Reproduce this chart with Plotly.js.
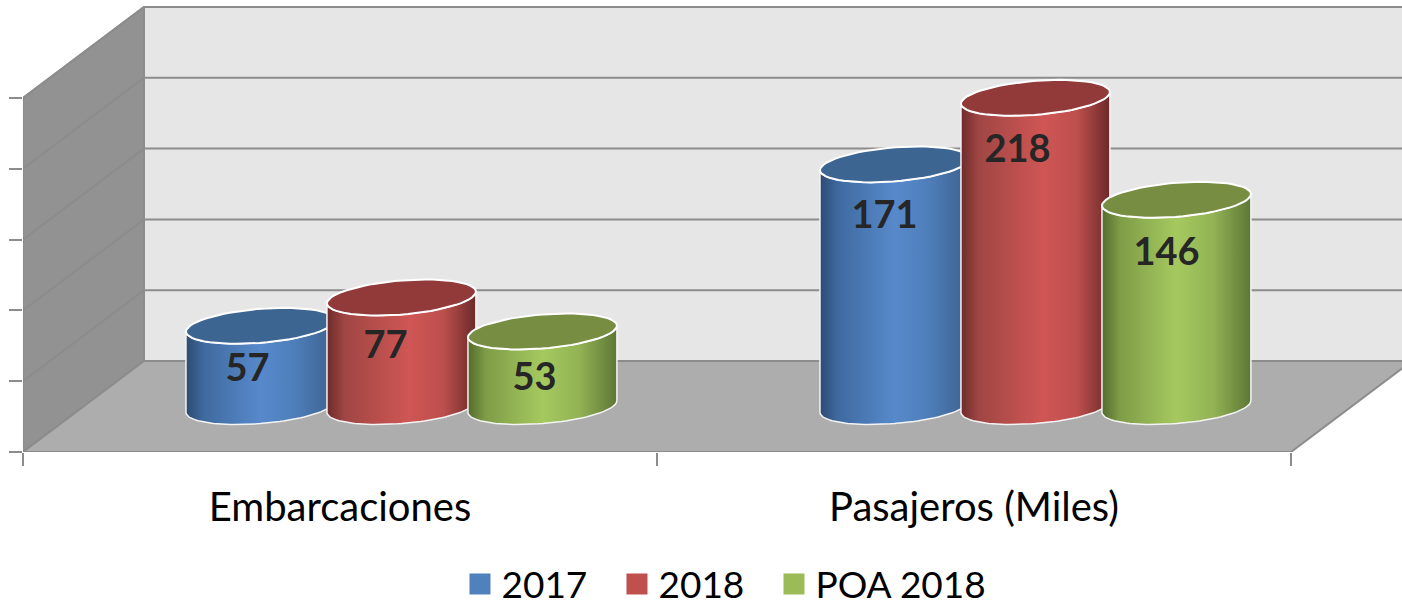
<!DOCTYPE html>
<html><head><meta charset="utf-8">
<script src="https://cdn.plot.ly/plotly-3.0.1.min.js"></script>
<style>html,body{margin:0;padding:0;background:#fff;overflow:hidden}</style>
</head><body><div id="chart" style="width:1402px;height:606px"></div>
<script>
const categories = ["Embarcaciones", "Pasajeros (Miles)"];
const seriesNames = ["2017", "2018", "POA 2018"];
const values2017 = [57, 171];
const values2018 = [77, 218];
const valuesPoa2018 = [53, 146];
const gridValues = [0, 50, 100, 150, 200, 250];

const allValues = [values2017, values2018, valuesPoa2018];
const swatch = ["#4f81bd", "#c0504d", "#9bbb59"];
const capColor = ["#3d6592", "#913a39", "#778d42"];
const bodyScale = [
  [[0,"#2c4b72"],[0.12,"#3f6a9f"],[0.5,"#5789cb"],[0.72,"#4f7fbb"],[1,"#3c618e"]],
  [[0,"#6e2b2a"],[0.12,"#a04644"],[0.55,"#cf5654"],[0.78,"#bd4f4d"],[1,"#6b2a29"]],
  [[0,"#536c2d"],[0.12,"#7f9c47"],[0.5,"#a5c95f"],[0.75,"#92b254"],[1,"#5d7735"]]
];
// nudges of the value labels relative to the cylinder (px): [series][category]
const labelDx = [[-14,-11],[-17,-19],[-9,-11]];
const labelDy = [[47,56],[52,56],[50,57]];

// Scales of the picture
const PX_X = 634, PX_V = 1.416;                // px per category, px per value unit
const BACK_X = 121 / PX_X, BACK_V = 91 / PX_V; // oblique offset of the back plane
const MID = 0.516;                             // depth of the cylinder row
const SHIFT = -1 / PX_X, SHIFT_V = -1.5 / PX_V;
const SPACING = 141 / PX_X, HALF = 70.5 / PX_X;
const CAP_B = 18 / PX_V, CAP_S = 24 / PX_X;
const XMAX = 1379 / PX_X, VMAX = 452 / PX_V;

const P = (x, v, d) => [x + d * BACK_X, v + d * BACK_V];
const poly = (pts, fill, line, lw) => ({
  type: "scatter", mode: line ? "lines" : "none", fill: fill ? "toself" : "none", fillcolor: fill,
  x: pts.map(p => p ? p[0] : null), y: pts.map(p => p ? p[1] : null),
  line: {color: line || "rgba(0,0,0,0)", width: lw || 0}, connectgaps: false,
  showlegend: false, hoverinfo: "skip", cliponaxis: false
});

const traces = [];

// Legend entries / flat columns, lying under the walls
allValues.forEach((vals, s) => traces.push({
  type: "bar", name: seriesNames[s], x: vals.map((_, c) => c + 0.5 + (s - 1) * SPACING + MID * BACK_X + SHIFT),
  y: vals, base: vals.map(() => MID * BACK_V), width: 0.05,
  marker: {color: swatch[s]}, hoverinfo: "skip"
}));

// Walls and floor
traces.push(poly([[BACK_X, BACK_V], [XMAX, BACK_V], [XMAX, 250 + BACK_V], [BACK_X, 250 + BACK_V], [BACK_X, BACK_V]], "#e6e6e6"));
traces.push(poly([P(0,0,0), P(0,250,0), P(0,250,1), P(0,0,1), P(0,0,0)], "#929292", "#8c8c8c", 2));
traces.push(poly([P(0,0,0), P(2,0,0), P(2,0,1), [XMAX, BACK_V], P(0,0,1), P(0,0,0)], "#adadad"));
const gridPts = [];
gridValues.forEach(v => { gridPts.push(P(0,v,0), P(0,v,1), [XMAX, v + BACK_V], null); });
traces.push(poly(gridPts, null, "#8c8c8c", 2));
traces.push(poly([P(0,0,0), P(2,0,0), P(2,0,1)], null, "#8c8c8c", 2));
traces.push(poly([P(0,0,0), P(0,250,0)], null, "#8c8c8c", 2));
traces.push(poly([P(0,0,1), P(0,250,1)], null, "#8c8c8c", 2));

// Cylinders
function ring(cx, cy, from, to) {
  const out = [];
  for (let i = 0; i <= 60; i++) {
    const t = from + (to - from) * i / 60;
    out.push([cx + HALF * Math.cos(t) + CAP_S * Math.sin(t), cy + CAP_B * Math.sin(t)]);
  }
  return out;
}
const T0 = Math.atan2(CAP_S, HALF);
categories.forEach((_, c) => {
  allValues.forEach((vals, s) => {
    const [cx0, base0] = P(c + 0.5 + (s - 1) * SPACING, 0, MID);
    const cx = cx0 + SHIFT, base = base0 + SHIFT_V;
    const top = base + vals[c];
    const lowerBase = ring(cx, base, T0, T0 - Math.PI);
    const lowerTop = ring(cx, top, T0 - Math.PI, T0);
    const body = lowerBase.concat(lowerTop, [lowerBase[0]]);
    traces.push({
      type: "scatter", mode: "lines", fill: "toself", x: body.map(p => p[0]), y: body.map(p => p[1]),
      fillgradient: {type: "horizontal", colorscale: bodyScale[s]},
      line: {color: "#f4f4f4", width: 1.5}, showlegend: false, hoverinfo: "skip"
    });
    const cap = ring(cx, top, 0, 2 * Math.PI);
    traces.push({
      type: "scatter", mode: "lines", fill: "toself", fillcolor: capColor[s],
      x: cap.map(p => p[0]), y: cap.map(p => p[1]),
      line: {color: "#ffffff", width: 2}, showlegend: false, hoverinfo: "skip"
    });
  });
});

// Value labels
allValues.forEach((vals, s) => traces.push({
  type: "scatter", mode: "text",
  x: vals.map((_, c) => P(c + 0.5 + (s - 1) * SPACING, 0, MID)[0] + labelDx[s][c] / PX_X),
  y: vals.map((v, c) => v + MID * BACK_V - labelDy[s][c] / PX_V),
  text: vals.map(String), textposition: "middle center",
  textfont: {family: "Lato, 'Open Sans', sans-serif", size: 38, weight: 700, color: "#262626"},
  showlegend: false, hoverinfo: "skip"
}));

const layout = {
  width: 1402, height: 606, margin: {l: 23, r: 0, t: 0, b: 154, autoexpand: false},
  paper_bgcolor: "#ffffff", plot_bgcolor: "#ffffff", barmode: "overlay",
  font: {family: "Lato, 'Open Sans', sans-serif", color: "#000000", size: 36},
  showlegend: true,
  legend: {orientation: "h", x: 0.3158, xref: "paper", xanchor: "left", y: -0.293, yanchor: "middle",
           itemwidth: 33, entrywidth: 109, entrywidthmode: "pixels",
           font: {size: 37, color: "#000"}, itemclick: false, itemdoubleclick: false, bgcolor: "rgba(0,0,0,0)", traceorder: "normal"},
  xaxis: {range: [0, XMAX], showgrid: false, zeroline: false, showline: false,
          tickmode: "array", tickvals: [0.5, 1.5], ticktext: categories, ticks: "",
          ticklabelstandoff: 28, tickfont: {size: 40, color: "#000"},
          minor: {tickmode: "array", tickvals: [0, 1, 2], ticks: "outside", ticklen: 13, tickwidth: 2, tickcolor: "#8c8c8c", showgrid: false}},
  yaxis: {range: [0, VMAX], showgrid: false, zeroline: false, showline: false,
          tickmode: "array", tickvals: gridValues, ticks: "outside", ticklen: 13, tickwidth: 2, tickcolor: "#8c8c8c",
          showticklabels: false}
};

Plotly.newPlot("chart", traces, layout, {staticPlot: true, displayModeBar: false}).then(() => {
  document.querySelectorAll(".legendpoints path").forEach(p => p.setAttribute("d", "M10.5,10.5H-10.5V-10.5H10.5Z"));
  document.querySelectorAll(".legend .scrollbox, .legend").forEach(g => g.removeAttribute("clip-path"));
  document.querySelectorAll(".legend .scrollbox, .legend").forEach(g => { g.style.clipPath = "none"; });
  document.querySelectorAll(".legend .legendtext").forEach(t => t.removeAttribute("clip-path"));
  document.querySelectorAll(".legend .traces").forEach(t => t.removeAttribute("clip-path"));
});
</script></body></html>
